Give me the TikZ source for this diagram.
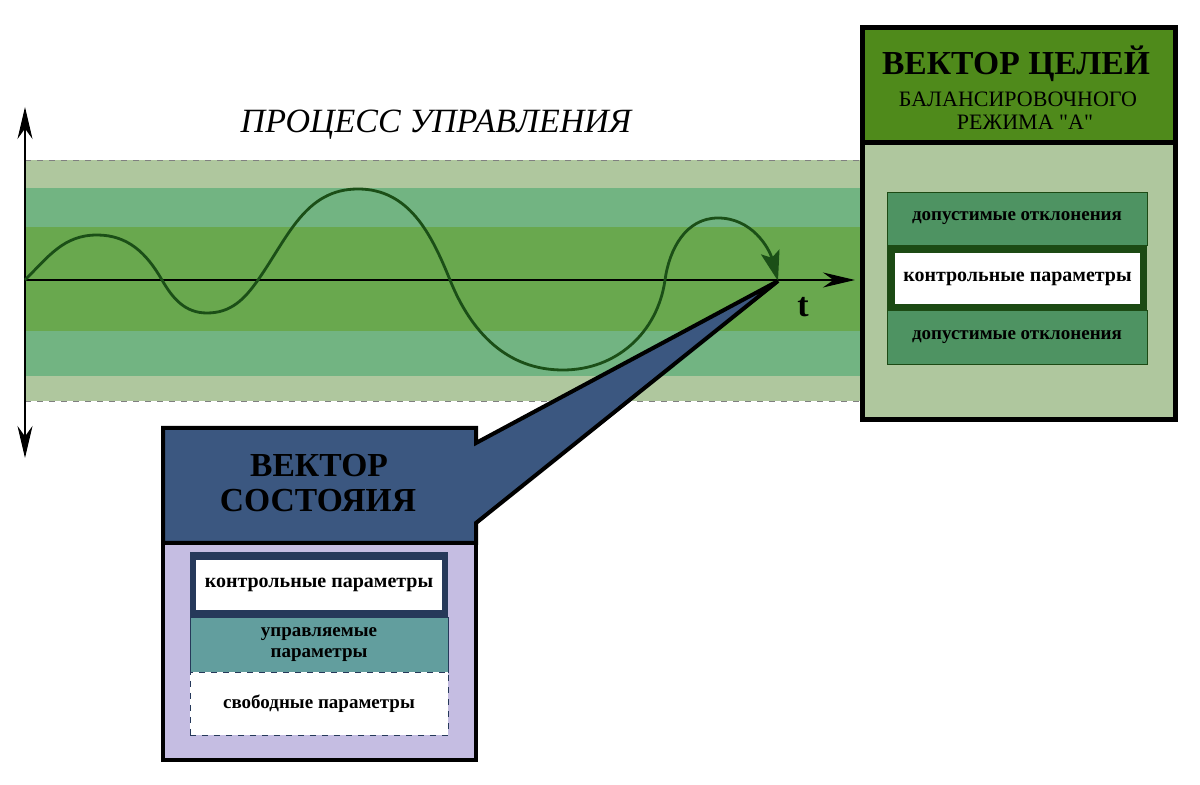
\documentclass[tikz,border=0pt]{standalone}
\usepackage{fontspec}
\setmainfont{Liberation Serif}
\definecolor{mylightgreen}{HTML}{AFC79E}
\definecolor{mymidgreen}{HTML}{72B482}
\definecolor{mybandgreen}{HTML}{69A84E}
\definecolor{mywave}{HTML}{1B4F17}
\definecolor{myheadgreen}{HTML}{4F8A1B}
\definecolor{mydevgreen}{HTML}{4E9362}
\definecolor{mydarkgreen}{HTML}{1C4A14}
\definecolor{myblue}{HTML}{3B5780}
\definecolor{mylavender}{HTML}{C5BDE2}
\definecolor{mynavy}{HTML}{26395A}
\definecolor{myteal}{HTML}{629E9E}
\usetikzlibrary{arrows.meta, positioning}
\tikzset{
	parambox/.style={draw, inner sep=0pt, align=center, font=\fontsize{9.5}{10.5}\selectfont\bfseries}
}
\tikzset{
	ctrlbox/.style={parambox, fill=white, draw=none, font=\fontsize{10}{11}\selectfont\bfseries}
}
\tikzset{
	titletext/.style={anchor=base, font=\fontsize{16.8}{18}\selectfont\bfseries}
}
\tikzset{
	subtext/.style={anchor=base, font=\fontsize{11}{12}\selectfont}
}
\tikzset{
	axistip/.style={-{Stealth[length=16pt, width=7.5pt]}}
}

\begin{document}
\begin{tikzpicture}[x=0.5pt, y=-0.5pt]
\useasboundingbox (0,0) rectangle (1200,785);

\coordinate (vtop) at (25,107);
\coordinate (vbot) at (25,458);
\coordinate (o) at (25,280);
\coordinate (tend) at (855,280);
\coordinate (tip) at (778,281);

% bands
\fill[mylightgreen] (25,160) rectangle (862,401);
\fill[mymidgreen] (25,188) rectangle (862,376);
\fill[mybandgreen] (25,227) rectangle (862,331);
\draw[gray, dashed, thin] (25,160) -- (862,160);
\draw[gray, dashed, thin] (25,401) -- (862,401);

% axes
\draw[line width=0.7pt, {Stealth[length=16pt, width=7.5pt]}-{Stealth[length=16pt, width=7.5pt]}] (vbot) -- (vtop);
\draw[line width=1pt, axistip] (o) -- (tend);
\node[anchor=base, font=\fontsize{17}{18}\selectfont\bfseries] (tlabel) at (803,317) {t};

\node[anchor=base, font=\fontsize{17}{18}\selectfont\itshape] (proctitle) at (436,133) {ПРОЦЕСС УПРАВЛЕНИЯ};

% wave
\draw[mywave, line width=1.4pt, -{Stealth[length=15pt, width=9.5pt, inset=3pt]}]
	(o) to[out=45,in=180] (97,235) to[out=0,in=120] (162,280)
	to[out=-60,in=180] (207,313) to[out=0,in=-125] (258,280)
	to[out=55,in=180] (358,189) to[out=0,in=112] (450,280)
	to[out=-68,in=180] (563,370) to[out=0,in=-98] (665,280)
	to[out=82,in=180] (718,218) to[out=0,in=105] (tip);

% state vector
\draw[line width=2pt, fill=myblue] (163,428) -- (476,428) -- (476,443) -- (tip) -- (476,523) -- (476,543) -- (163,543) -- cycle;
\draw[line width=2pt, fill=mylavender] (163,543) rectangle (476,760);
\node[titletext] (statetitle) at (319,477) {ВЕКТОР};
\node[titletext] (statetitleb) at (318,512) {СОСТОЯИЯ};
\fill[mynavy] (190,552) rectangle (448,617);
\node[ctrlbox, minimum width=123pt, minimum height=25pt] (ctrlstate) at (319,585) {контрольные параметры};
\node[parambox, fill=myteal, draw=mynavy, minimum width=129pt, minimum height=27.5pt] (managed) at (319,644.5) {управляемые\\параметры};
\node[parambox, fill=white, draw=mynavy, dashed, minimum width=129pt, minimum height=31.5pt] (free) at (319,703.5) {свободные параметры};

% goal vector
\draw[line width=2.5pt, fill=mylightgreen] (862,28) rectangle (1175,420);
\draw[line width=2.5pt, fill=myheadgreen] (862,28) rectangle (1175,143);
\node[titletext] (goaltitle) at (1016,75) {ВЕКТОР ЦЕЛЕЙ};
\node[subtext] (goalsub) at (1018,107) {БАЛАНСИРОВОЧНОГО};
\node[subtext] (goalsubb) at (1025,130) {РЕЖИМА \textquotedbl А\textquotedbl};
\fill[mydarkgreen] (887,245) rectangle (1147,310);
\node[parambox, fill=mydevgreen, draw=mydarkgreen, minimum width=130pt, minimum height=26.5pt] (devtop) at (1017,218.5) {допустимые отклонения};
\node[ctrlbox, minimum width=122.5pt, minimum height=25.5pt] (ctrlgoal) at (1017.5,278.5) {контрольные параметры};
\node[parambox, fill=mydevgreen, draw=mydarkgreen, minimum width=130pt, minimum height=27pt] (devbot) at (1017,337) {допустимые отклонения};

\end{tikzpicture}
\end{document}
